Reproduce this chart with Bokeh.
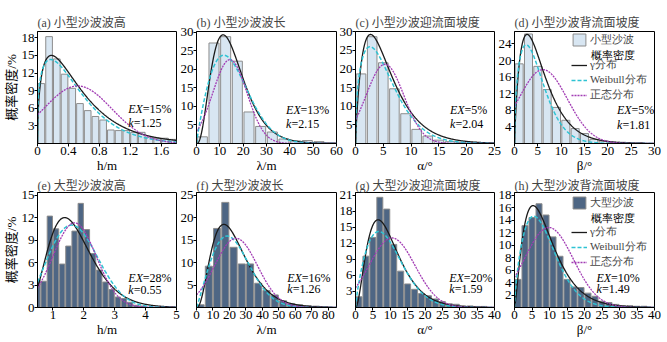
import numpy as np
from bokeh.plotting import figure
from bokeh.models import FixedTicker, Range1d, Label, Legend, LegendItem
from bokeh.layouts import row, column
from bokeh.embed import file_html
from bokeh.resources import INLINE

# ---------------- data ----------------
titles = ["(a) 小型沙波波高", "(b) 小型沙波波长", "(c) 小型沙波迎流面坡度", "(d) 小型沙波背流面坡度",
          "(e) 大型沙波波高", "(f) 大型沙波波长", "(g) 大型沙波迎流面坡度", "(h) 大型沙波背流面坡度"]
x_axis_labels = ["h/m", "λ/m", "α/°", "β/°"]
y_axis_label = "概率密度/%"
legend_hist_line1 = ["小型沙波", "大型沙波"]
legend_hist_line2 = "概率密度"
legend_curve_labels = ["γ分布", "Weibull分布", "正态分布"]

# histogram bins: (left edge of first bin, bin width) and bar heights (%)
bins_a = (0.0, 0.1)
heights_a = [10.2, 18.2, 14.4, 11.8, 9.4, 6.8, 5.6, 4.6, 4.0, 2.3, 2.2, 2.2, 1.9, 1.9, 1.1, 0.9, 0.9, 0.7]
bins_b = (0.0, 5.0)
heights_b = [1.8, 27.1, 28.8, 22.2, 8.5, 4.6, 3.1, 1.2, 0.7, 0.8, 0.5, 0.2]
bins_c = (0.0, 2.0)
heights_c = [18.7, 28.7, 21.7, 14.7, 8.0, 3.8, 2.0, 0.9, 0.5, 0.3, 0.3]
bins_d = (0.0, 2.0)
heights_d = [19.2, 26.4, 18.6, 13.0, 8.7, 5.6, 3.6, 2.4, 1.0, 0.6, 0.3, 0.3, 0.2, 0.2]
bins_e = (0.4, 0.2)
heights_e = [3.7, 3.5, 12.2, 10.5, 5.8, 8.2, 10.2, 13.9, 10.4, 7.2, 5.0, 3.4, 2.4, 1.4, 1.2, 0.7, 0.3, 0.2]
bins_f = (0.0, 5.0)
heights_f = [0.6, 9.2, 17.6, 23.4, 13.4, 9.7, 9.7, 5.4, 3.8, 2.8, 1.5, 0.9, 0.6, 0.4, 0.3, 0.2]
bins_g = (0.0, 2.0)
heights_g = [2.0, 9.6, 13.1, 20.6, 18.4, 11.8, 6.8, 4.4, 3.4, 2.6, 2.2, 1.6, 1.1, 0.7, 0.6, 0.3, 0.3, 0.2, 0.2]
bins_h = (0.0, 2.0)
heights_h = [4.5, 13.1, 14.4, 16.6, 14.8, 11.3, 8.2, 4.5, 3.3, 3.2, 2.3, 1.8, 1.0, 0.8, 0.5, 0.3, 0.3, 0.2, 0.2]

# fitted curves
# gamma / weibull: (x of peak, peak %, shape);  normal: (mean, peak %, sd)
gamma_a, weibull_a, normal_a = (0.18, 15.0, 1.5), (0.17, 14.3, 1.3), (0.52, 9.8, 0.44)
gamma_b, weibull_b, normal_b = (11.4, 29.3, 3.7), (11.7, 23.8, 1.9), (14.3, 22.6, 7.3)
gamma_c, weibull_c, normal_c = (2.7, 29.3, 1.9), (2.6, 26.0, 1.45), (5.3, 21.3, 3.4)
gamma_d, weibull_d, normal_d = (2.7, 26.3, 1.9), (2.5, 23.8, 1.5), (6.1, 17.8, 5.2)
gamma_e, weibull_e, normal_e = (1.38, 12.0, 5.0), (1.6, 11.0, 2.5), (1.7, 11.3, 0.70)
gamma_f, weibull_f, normal_f = (16.6, 18.5, 3.5), (18.6, 15.9, 2.1), (24.0, 15.4, 13.0)
gamma_g, weibull_g, normal_g = (6.5, 16.4, 3.0), (6.7, 14.2, 1.8), (10.5, 13.0, 6.6)
gamma_h, weibull_h, normal_h = (5.3, 16.3, 2.4), (5.5, 14.6, 1.7), (9.8, 12.8, 7.0)

ex_labels = ["15%", "13%", "5%", "5%", "28%", "16%", "20%", "10%"]
k_labels = ["1.25", "2.15", "2.04", "1.81", "0.55", "1.26", "1.59", "1.49"]

x_ticks_a = [0, 0.4, 0.8, 1.2, 1.6]
x_ticks_b = [0, 10, 20, 30, 40, 50, 60]
x_ticks_c = [0, 5, 10, 15, 20, 25]
x_ticks_d = [0, 5, 10, 15, 20, 25, 30]
x_ticks_e = [1, 2, 3, 4, 5]
x_ticks_f = [0, 10, 20, 30, 40, 50, 60, 70, 80]
x_ticks_g = [0, 5, 10, 15, 20, 25, 30, 35, 40]
x_ticks_h = [0, 5, 10, 15, 20, 25, 30, 35, 40]
y_ticks_a = [3, 6, 9, 12, 15, 18]
y_ticks_b = [5, 10, 15, 20, 25, 30]
y_ticks_c = [5, 10, 15, 20, 25, 30]
y_ticks_d = [4, 8, 12, 16, 20, 24]
y_ticks_e = [0, 3, 6, 9, 12, 15]
y_ticks_f = [5, 10, 15, 20, 25]
y_ticks_g = [3, 6, 9, 12, 15, 18, 21]
y_ticks_h = [2, 4, 6, 8, 10, 12, 14, 16, 18]

# ---------------- layout / style ----------------
x_ranges = [(0, 1.8), (0, 60), (0, 25), (0, 30), (0.5, 5), (0, 85), (0, 40), (0, 40)]
y_ranges = [(0, 19.07), (0, 30.2), (0, 30.1), (0, 27.0), (0, 15.35), (0, 25.6), (0, 21.5), (0, 18.4)]
# text anchor positions (data units): x of left edge, y of EX line, y of k line
ex_x = [1.175, 38.4, 17.0, 21.95, 3.44, 55.1, 26.95, 23.4]
ex_y = [5.83, 8.95, 8.9, 8.1, 3.89, 6.6, 5.56, 4.8]
k_y = [3.45, 5.2, 5.16, 4.55, 2.3, 4.06, 3.4, 3.0]

SERIF = "Liberation Serif"
MIXED = "Liberation Serif, Noto Sans CJK SC"
HIST_FILL = ["#d8e6f2", "#4e6684"]
HIST_LINE = ["#8c8c8c", "#8c8c8c"]
GAMMA_COLOR = "#1a1a1a"
WEIBULL_COLOR = "#2ec3d3"
NORMAL_COLOR = "#a23cb4"

# column canvases: (width, min_border_left, min_border_right, margin_left)
cols = [(185, 35, 9, 0), (168, 17, 9, -8), (167, 17, 9, -9), (172, 17, 13, -8)]
rows_spec = [(176, 31, 33, 4), (166, 15, 35, 0)]  # height, top, bottom, title standoff
# legend placement (screen px from frame bottom-left)
legend_x = 57
legend_hist_y = [96, 97]
legend_line2_y = [89, 90]
legend_curve_y = [41, 38]


def gamma_curve(x, p):
    mode, peak, k = p
    theta = mode / (k - 1.0)
    return peak * (x / mode) ** (k - 1.0) * np.exp(-(x - mode) / theta)


def weibull_curve(x, p):
    mode, peak, c = p
    lam = mode / ((c - 1.0) / c) ** (1.0 / c)
    g = lambda t: t ** (c - 1.0) * np.exp(-(t / lam) ** c)
    return peak * g(x) / g(mode)


def normal_curve(x, p):
    mu, peak, sd = p
    return peak * np.exp(-(x - mu) ** 2 / (2 * sd ** 2))


bins_all = [bins_a, bins_b, bins_c, bins_d, bins_e, bins_f, bins_g, bins_h]
heights_all = [heights_a, heights_b, heights_c, heights_d, heights_e, heights_f, heights_g, heights_h]
gammas = [gamma_a, gamma_b, gamma_c, gamma_d, gamma_e, gamma_f, gamma_g, gamma_h]
weibulls = [weibull_a, weibull_b, weibull_c, weibull_d, weibull_e, weibull_f, weibull_g, weibull_h]
normals = [normal_a, normal_b, normal_c, normal_d, normal_e, normal_f, normal_g, normal_h]
x_ticks_all = [x_ticks_a, x_ticks_b, x_ticks_c, x_ticks_d, x_ticks_e, x_ticks_f, x_ticks_g, x_ticks_h]
y_ticks_all = [y_ticks_a, y_ticks_b, y_ticks_c, y_ticks_d, y_ticks_e, y_ticks_f, y_ticks_g, y_ticks_h]

LEG_FONT_SIZE = "11px"
GLYPH_W = 16
LABEL_STANDOFF = 3


def fmt(t):
    return ("%g" % t)


def style_legend(lg):
    lg.border_line_alpha = 0
    lg.background_fill_alpha = 0
    lg.label_text_font = SERIF
    lg.label_text_font_size = LEG_FONT_SIZE
    lg.label_standoff = LABEL_STANDOFF
    lg.glyph_width = GLYPH_W
    lg.spacing = 0
    lg.padding = 0
    lg.margin = 0


def make_panel(i):
    r, c = divmod(i, 4)
    width, bl, br, ml = cols[c]
    height, bt, bb, standoff = rows_spec[r]
    p = figure(width=width, height=height, output_backend="svg", toolbar_location=None,
               x_range=Range1d(*x_ranges[i]), y_range=Range1d(*y_ranges[i]),
               min_border_left=bl, min_border_right=br, min_border_top=bt, min_border_bottom=bb,
               margin=(0, 0, 0, ml))
    p.border_fill_alpha = 0
    p.background_fill_color = "white"
    p.outline_line_color = "black"
    p.outline_line_width = 1
    p.grid.visible = False

    p.title.text = titles[i]
    p.title.text_font = MIXED
    p.title.text_font_size = "12px"
    p.title.text_font_style = "normal"
    p.title.align = "left"
    p.title.standoff = standoff

    start, w = bins_all[i]
    hts = heights_all[i]
    centers = [start + w * (j + 0.5) for j in range(len(hts))]
    bars = p.vbar(x=centers, top=hts, width=w * 0.86, bottom=0,
                  fill_color=HIST_FILL[r], line_color=HIST_LINE[r], line_width=1)

    x0, x1 = x_ranges[i]
    xs = np.linspace(max(x0, 1e-6), x1, 500)
    g = p.line(xs, gamma_curve(xs, gammas[i]), line_color=GAMMA_COLOR, line_width=1.3)
    wb = p.line(xs, weibull_curve(xs, weibulls[i]), line_color=WEIBULL_COLOR, line_width=1.5,
                line_dash="4 2")
    nm = p.line(xs, normal_curve(xs, normals[i]), line_color=NORMAL_COLOR, line_width=1.3,
                line_dash="2 1")

    for ax, ticks in ((p.xaxis[0], x_ticks_all[i]), (p.yaxis[0], y_ticks_all[i])):
        ax.ticker = FixedTicker(ticks=ticks)
        ax.major_label_overrides = {t: fmt(t) for t in ticks}
        ax.major_tick_out = 3
        ax.major_tick_in = 0
        ax.minor_tick_line_color = None
        ax.axis_line_color = "black"
        ax.major_tick_line_color = "black"
        ax.major_label_text_font = SERIF
        ax.major_label_text_font_size = "13px"
        ax.major_label_text_color = "black"
        ax.major_label_standoff = 0
        ax.axis_label_text_font = MIXED
        ax.axis_label_text_font_size = "13px"
        ax.axis_label_text_font_style = "normal"
        ax.axis_label_text_color = "black"
        ax.axis_label_standoff = 0
    p.xaxis[0].axis_label = x_axis_labels[c]
    if c == 0:
        p.yaxis[0].axis_label = y_axis_label

    # EX / k annotations
    common = dict(text_font=SERIF, text_font_size="12px", text_baseline="middle", text_align="left",
                  text_color="black")
    p.add_layout(Label(x=ex_x[i], y=ex_y[i], text="EX", text_font_style="italic", **common))
    p.add_layout(Label(x=ex_x[i], y=ex_y[i], x_offset=14.5, text="=" + ex_labels[i], **common))
    p.add_layout(Label(x=ex_x[i], y=k_y[i], text="k", text_font_style="italic", **common))
    p.add_layout(Label(x=ex_x[i], y=k_y[i], x_offset=5.5, text="=" + k_labels[i], **common))

    if c == 3:
        lg1 = Legend(items=[LegendItem(label=legend_hist_line1[r], renderers=[bars])],
                     location=(legend_x, legend_hist_y[r]))
        style_legend(lg1)
        lg1.glyph_height = 15
        lg1.label_height = 14
        lg2 = Legend(items=[
            LegendItem(label=legend_curve_labels[0], renderers=[g]),
            LegendItem(label=legend_curve_labels[1], renderers=[wb]),
            LegendItem(label=legend_curve_labels[2], renderers=[nm]),
        ], location=(legend_x, legend_curve_y[r]))
        style_legend(lg2)
        lg2.glyph_height = 14
        lg2.label_height = 14
        p.add_layout(lg1)
        p.add_layout(lg2)
        p.add_layout(Label(x=legend_x + GLYPH_W + LABEL_STANDOFF, y=legend_line2_y[r],
                           x_units="screen", y_units="screen", text=legend_hist_line2,
                           text_font=SERIF, text_font_size=LEG_FONT_SIZE, text_baseline="middle",
                           text_align="left", text_color="black"))
    return p


panels = [make_panel(i) for i in range(8)]
layout = column(row(*panels[:4]), row(*panels[4:]))

open("out.html", "w").write(file_html(layout, INLINE))
